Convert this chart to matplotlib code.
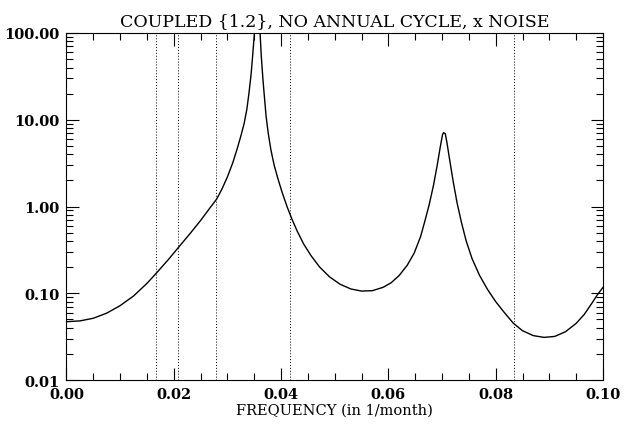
import numpy as np
import matplotlib
matplotlib.use("Agg")
import matplotlib.pyplot as plt
from matplotlib.ticker import FixedLocator, LogLocator, NullFormatter, FormatStrFormatter

# spectrum (frequency in 1/month, power)
freq = [0.0000, 0.0025, 0.0050, 0.0075, 0.0100, 0.0125, 0.0150, 0.0168, 0.0190,
        0.0210, 0.0230, 0.0250, 0.0265, 0.0280, 0.0290, 0.0300, 0.0310, 0.0318,
        0.0325, 0.0331, 0.0336, 0.0340, 0.0344, 0.0347, 0.0350, 0.0353, 0.0356,
        0.0359, 0.0361, 0.0363, 0.0366, 0.0369, 0.0372, 0.0376, 0.0381, 0.0387,
        0.0394, 0.0402, 0.0411, 0.0420, 0.0430, 0.0442, 0.0456, 0.0472, 0.0490,
        0.0510, 0.0530, 0.0550, 0.0570, 0.0590, 0.0605, 0.0620, 0.0635, 0.0648,
        0.0660, 0.0668, 0.0676, 0.0684, 0.0691, 0.0697, 0.0701, 0.0703, 0.0706,
        0.0709, 0.0714, 0.0721, 0.0728, 0.0736, 0.0745, 0.0756, 0.0770, 0.0785,
        0.0800, 0.0816, 0.0833, 0.0850, 0.0870, 0.0890, 0.0910, 0.0930, 0.0950,
        0.0965, 0.0980, 0.0990, 0.1000]
power = [0.047, 0.048, 0.0515, 0.059, 0.072, 0.093, 0.130, 0.172, 0.245,
         0.345, 0.485, 0.69, 0.92, 1.22, 1.6, 2.2, 3.2, 4.6,
         6.5, 9.0, 13.0, 20.0, 33.0, 55.0, 95.0, 160.0, 200.0,
         150.0, 95.0, 55.0, 30.0, 18.0, 11.0, 7.0, 4.5, 3.0,
         2.1, 1.45, 1.0, 0.72, 0.52, 0.37, 0.27, 0.20, 0.155,
         0.127, 0.112, 0.106, 0.107, 0.117, 0.132, 0.16, 0.21, 0.29,
         0.45, 0.68, 1.05, 1.75, 3.0, 5.0, 6.8, 7.1, 6.9,
         5.5, 3.5, 1.9, 1.1, 0.66, 0.40, 0.25, 0.16, 0.11,
         0.08, 0.06, 0.045, 0.037, 0.0325, 0.031, 0.0318, 0.036, 0.045,
         0.057, 0.078, 0.097, 0.117]

# reference periods: 5, 4, 3, 2, 1 years
marks = [1/60, 1/48, 1/36, 1/24, 1/12]

plt.rcParams['font.family'] = ['DejaVu Serif']

fig = plt.figure(figsize=(6.29, 4.27), dpi=100)
ax = fig.add_axes([0.1057, 0.1077, 0.853, 0.8127])

ax.plot(freq, power, color='black', linewidth=1.0)
for m in marks:
    ax.axvline(m, color='black', linestyle=(0, (1, 2)), linewidth=0.7)

ax.set_yscale('log')
ax.set_xlim(0, 0.1)
ax.set_ylim(0.01, 100)

ax.xaxis.set_major_locator(FixedLocator([0, 0.02, 0.04, 0.06, 0.08, 0.1]))
ax.xaxis.set_minor_locator(FixedLocator(np.arange(0, 0.1001, 0.005)))
ax.xaxis.set_major_formatter(FormatStrFormatter('%.2f'))
ax.yaxis.set_major_locator(FixedLocator([0.01, 0.1, 1, 10, 100]))
ax.yaxis.set_minor_locator(LogLocator(base=10, subs=np.arange(2, 10)))
ax.yaxis.set_minor_formatter(NullFormatter())
ax.set_yticklabels(['0.01', '0.10', '1.00', '10.00', '100.00'])

ax.tick_params(which='both', direction='in', top=True, right=True, width=0.8)
ax.tick_params(which='major', length=9)
ax.tick_params(which='minor', length=5)
ax.tick_params(axis='both', labelsize=10.5, pad=5)
for lab in ax.get_xticklabels() + ax.get_yticklabels():
    lab.set_fontweight('bold')
for s in ax.spines.values():
    s.set_linewidth(0.8)

ax.set_title('COUPLED {1.2}, NO ANNUAL CYCLE, x NOISE', fontsize=12.5, pad=6)
ax.set_xlabel('FREQUENCY (in 1/month)', fontsize=10.5, labelpad=1)

fig.savefig('out.png', dpi=100)
